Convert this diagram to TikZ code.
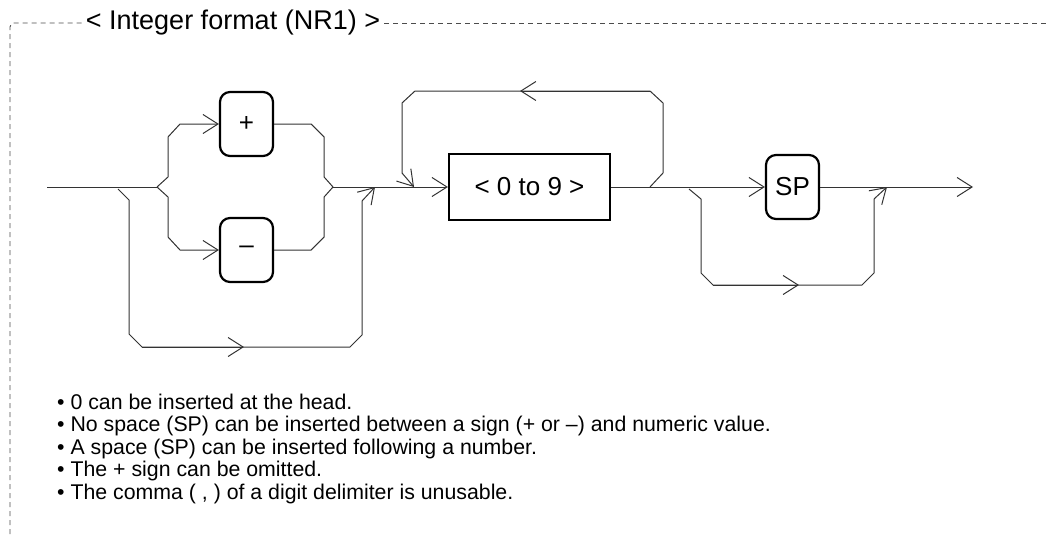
\documentclass[tikz,border=0pt]{standalone}
\usepackage{fontspec}
\setmainfont{Liberation Sans}
\usetikzlibrary{arrows.meta}

\begin{document}
\begin{tikzpicture}[
  x=1pt, y=-1pt,
  line/.style={draw=black!80, line width=1pt},
  arr/.style={-{Straight Barb[length=15pt,width=19pt,line width=1pt]}},
  term/.style={draw, line width=2.2pt, rounded corners=10pt, minimum width=53pt,
    minimum height=64pt, inner sep=0pt, font=\fontsize{26}{30}\selectfont},
  nonterm/.style={draw, line width=2.2pt, minimum width=161pt, minimum height=66pt,
    inner sep=0pt, font=\fontsize{26}{30}\selectfont},
  frame/.style={draw=black!70, line width=0.9pt, dash pattern=on 5pt off 4pt}
]
\useasboundingbox (0,0) rectangle (1046,535);

% outer frame with title
\node[inner sep=4pt, font=\fontsize{27}{30}\selectfont] (title) at (233,23) {< Integer format (NR1) >};
\draw[frame, rounded corners=4pt] (title.west) -| (10,535);
\draw[frame] (title.east) -- (1046,23);

% symbols
\coordinate (start) at (47,187);
\coordinate (fork) at (157,187);
\coordinate (join) at (333,187);
\node[term] (plus) at (246.5,124) {+};
\node[term] (minus) at (246.5,250) {–};
\node[nonterm] (digit) at (529.5,187) {< 0 to 9 >};
\node[term] (sp) at (792.5,187) {SP};
\coordinate (end) at (973,187);

% sign branch
\draw[line] (start) -- (fork);
\draw[line, arr] (fork) -- ++(11,-10) -- ++(0,-40) -- ++(12,-13) -- (plus);
\draw[line, arr] (fork) -- ++(11,10) -- ++(0,40) -- ++(12,13) -- (minus);
\draw[line] (plus.east) -- ++(37,0) -- ++(13,13) -- ++(0,40) -- (join);
\draw[line] (minus.east) -- ++(37,0) -- ++(13,-13) -- ++(0,-40) -- (join);

% no sign
\coordinate (skipA) at (118,189);
\coordinate (skipEnd) at (375,187);
\draw[line] (skipA) -- ++(11,11) -- ++(0,134) -- ++(13,13) coordinate (skipL)
  -- ++(208,0) -- ++(12,-12) -- ++(0,-134) coordinate (skipR);
\draw[line, arr] (skipL) -- ++(102,0);
\draw[line, arr] (skipR) -- (skipEnd);

\draw[line, arr] (join) -- (digit);

% repeat digits
\coordinate (loopA) at (650,187);
\coordinate (loopEnd) at (414,187);
\draw[line] (loopA) -- ++(13,-14) -- ++(0,-70) -- ++(-13,-12) coordinate (loopR)
  -- ++(-235,0) -- ++(-13,12) -- ++(0,70) coordinate (loopL);
\draw[line, arr] (loopR) -- ++(-130,0);
\draw[line, arr] (loopL) -- (loopEnd);

\draw[line, arr] (digit) -- (sp);
\draw[line, arr] (sp) -- (end);

% optional space
\coordinate (spA) at (689,189);
\coordinate (spEnd) at (887,187);
\draw[line] (spA) -- ++(12,10) -- ++(0,74) -- ++(12,12) coordinate (spL)
  -- ++(149,0) -- ++(12,-12) -- ++(0,-74) coordinate (spR);
\draw[line, arr] (spL) -- ++(86,0);
\draw[line, arr] (spR) -- (spEnd);

% notes
\node[anchor=north west, inner sep=0pt, align=left, font=\fontsize{21.3}{22.5}\selectfont] (notes) at (57,393.5)
  {• 0 can be inserted at the head.\\
   • No space (SP) can be inserted between a sign (+ or –) and numeric value.\\
   • A space (SP) can be inserted following a number.\\
   • The + sign can be omitted.\\
   • The comma ( , ) of a digit delimiter is unusable.};
\end{tikzpicture}
\end{document}
